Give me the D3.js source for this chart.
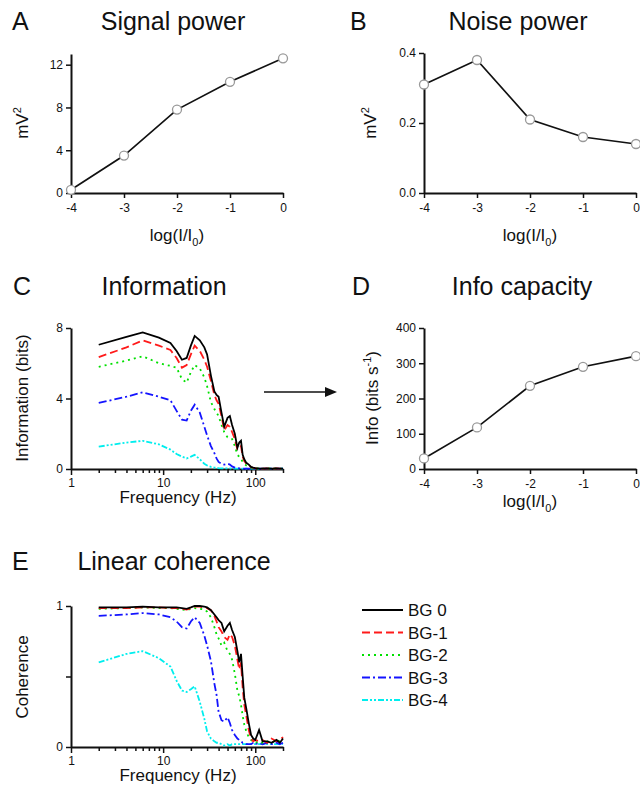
<!DOCTYPE html>
<html>
<head>
<meta charset="utf-8">
<script src="https://cdn.jsdelivr.net/npm/d3@7"></script>
<style>
body { margin: 0; background: #fff; }
text { font-family: "Liberation Sans", Arial, sans-serif; fill: #111; }
</style>
</head>
<body>
<div id="viz"></div>
<script>
// light level points (panels A, B, D)
var logI = [-4, -3, -2, -1, 0];
var signalPower = [0.3, 3.5, 7.8, 10.4, 12.6];
var noisePower = [0.31, 0.38, 0.21, 0.16, 0.14];
var infoCapacity = [30, 118, 236, 290, 320];

// frequency grid (panels C, E)
var freq = [2, 4, 6, 9, 12, 14, 16, 18, 20, 22, 25, 28, 30, 33, 36, 38, 40, 43, 46, 50,
            53, 56, 60, 64, 67, 70, 73, 76, 80, 85, 90, 95, 100, 110, 120, 135, 150, 170, 185, 200];

var seriesNames = ['BG 0', 'BG-1', 'BG-2', 'BG-3', 'BG-4'];

// information (bits)
var info0 = [7.05, 7.5, 7.75, 7.45, 7.15, 6.7, 6.2, 6.3, 7.0, 7.55, 7.3, 6.9, 6.5, 5.3, 4.4, 4.2, 4.1, 3.2, 2.4, 2.9,
             3.0, 2.5, 2.0, 1.2, 1.5, 1.6, 0.8, 0.55, 0.35, 0.25, 0.12, 0.08, 0.05, 0.03, 0.02, 0.03, 0.02, 0.03, 0.02, 0.02];
var info1 = [6.35, 6.9, 7.3, 7.0, 6.75, 6.3, 5.75, 5.9, 6.5, 7.0, 6.7, 6.2, 5.8, 5.0, 4.2, 3.9, 3.7, 3.0, 2.2, 2.5,
             2.4, 2.1, 1.7, 1.1, 1.2, 1.3, 0.7, 0.45, 0.3, 0.2, 0.1, 0.06, 0.04, 0.03, 0.02, 0.03, 0.02, 0.03, 0.02, 0.03];
var info2 = [5.8, 6.15, 6.4, 6.0, 5.85, 5.75, 5.1, 4.9, 5.5, 5.9, 5.7, 5.2, 4.7, 3.8, 3.4, 3.2, 3.0, 2.5, 2.1, 1.8,
             1.75, 1.7, 1.3, 0.8, 0.7, 0.6, 0.4, 0.3, 0.2, 0.12, 0.07, 0.05, 0.04, 0.03, 0.02, 0.03, 0.02, 0.03, 0.02, 0.02];
var info3 = [3.75, 4.1, 4.35, 4.1, 3.9, 3.3, 2.8, 2.75, 3.3, 3.65, 3.2, 2.4, 1.9, 1.3, 0.9, 0.6, 0.4, 0.3, 0.25, 0.3,
             0.25, 0.15, 0.08, 0.05, 0.04, 0.03, 0.03, 0.02, 0.02, 0.02, 0.02, 0.02, 0.02, 0.02, 0.02, 0.02, 0.02, 0.02, 0.02, 0.02];
var info4 = [1.27, 1.5, 1.6, 1.4, 1.1, 0.85, 0.7, 0.6, 0.7, 0.8, 0.55, 0.3, 0.2, 0.12, 0.08, 0.06, 0.05, 0.04, 0.03, 0.03,
             0.03, 0.02, 0.02, 0.02, 0.02, 0.02, 0.02, 0.02, 0.02, 0.02, 0.02, 0.02, 0.02, 0.02, 0.02, 0.02, 0.02, 0.02, 0.02, 0.02];

// linear coherence
var coh0 = [0.99, 0.99, 0.995, 0.99, 0.99, 0.99, 0.985, 0.98, 0.99, 1.0, 1.0, 0.995, 0.99, 0.97, 0.94, 0.92, 0.9, 0.88, 0.82, 0.86,
            0.88, 0.83, 0.78, 0.68, 0.6, 0.66, 0.5, 0.35, 0.27, 0.17, 0.085, 0.06, 0.05, 0.12, 0.04, 0.04, 0.03, 0.05, 0.03, 0.06];
var coh1 = [0.985, 0.985, 0.99, 0.99, 0.985, 0.985, 0.98, 0.975, 0.985, 0.995, 0.995, 0.99, 0.985, 0.97, 0.93, 0.89, 0.85, 0.82, 0.78, 0.76,
            0.8, 0.78, 0.72, 0.62, 0.55, 0.6, 0.42, 0.3, 0.22, 0.12, 0.06, 0.04, 0.05, 0.04, 0.05, 0.03, 0.06, 0.04, 0.05, 0.07];
var coh2 = [0.98, 0.985, 0.99, 0.985, 0.985, 0.98, 0.975, 0.97, 0.98, 0.985, 0.98, 0.975, 0.96, 0.92, 0.85, 0.8, 0.77, 0.72, 0.74, 0.68,
            0.66, 0.62, 0.52, 0.4, 0.36, 0.3, 0.22, 0.16, 0.11, 0.07, 0.05, 0.04, 0.03, 0.04, 0.03, 0.04, 0.03, 0.05, 0.04, 0.05];
var coh3 = [0.93, 0.94, 0.95, 0.94, 0.92, 0.89, 0.85, 0.84, 0.89, 0.92, 0.88, 0.79, 0.72, 0.61, 0.45, 0.37, 0.25, 0.19, 0.18, 0.21,
            0.17, 0.12, 0.085, 0.06, 0.05, 0.04, 0.03, 0.03, 0.02, 0.02, 0.02, 0.03, 0.02, 0.03, 0.02, 0.03, 0.02, 0.03, 0.02, 0.03];
var coh4 = [0.6, 0.66, 0.68, 0.63, 0.57, 0.47, 0.4, 0.39, 0.41, 0.43, 0.32, 0.2, 0.11, 0.06, 0.04, 0.03, 0.03, 0.02, 0.01, 0.02,
            0.01, 0.02, 0.02, 0.02, 0.02, 0.02, 0.02, 0.02, 0.02, 0.02, 0.02, 0.02, 0.02, 0.02, 0.02, 0.02, 0.02, 0.02, 0.02, 0.02];

var infoSeries = [info0, info1, info2, info3, info4];
var cohSeries = [coh0, coh1, coh2, coh3, coh4];

var colors = ['#000000', '#ff1a1a', '#00e000', '#1414ff', '#00eeee'];
var dashes = [null, '8,4', '2,4', '8,3,2,3', '6,2,2,2,2,2'];

var svg = d3.select('#viz').append('svg')
  .attr('width', 640)
  .attr('height', 797)
  .style('background', '#fff');

function styleAxis(g) {
  g.select('.domain').attr('stroke', '#111').attr('stroke-width', 2);
  g.selectAll('.tick line').attr('stroke', '#111').attr('stroke-width', 1.5);
  g.selectAll('.tick text').attr('font-size', 12).attr('fill', '#222')
    .attr('font-family', '"Liberation Sans", Arial, sans-serif');
}

function title(letter, txt, lx, cx, y) {
  svg.append('text').attr('x', lx).attr('y', y).attr('font-size', 25).text(letter);
  svg.append('text').attr('x', cx).attr('y', y).attr('font-size', 25)
    .attr('text-anchor', 'middle').text(txt);
}

function yLabel(x, y, main, sup, tail) {
  var t = svg.append('text')
    .attr('transform', 'translate(' + x + ',' + y + ') rotate(-90)')
    .attr('text-anchor', 'middle').attr('font-size', 17);
  t.append('tspan').text(main);
  if (sup) {
    t.append('tspan').attr('dy', -7).attr('font-size', 11).text(sup);
    if (tail) t.append('tspan').attr('dy', 7).text(tail);
  }
}

function xLabelLog(cx, y) {
  var t = svg.append('text').attr('x', cx).attr('y', y)
    .attr('text-anchor', 'middle').attr('font-size', 17);
  t.append('tspan').text('log(I/I');
  t.append('tspan').attr('dy', 5).attr('font-size', 11).text('0');
  t.append('tspan').attr('dy', -5).text(')');
}

function pointPanel(x0, x1, yTop, yBot, yMax, yTicks, yFmt, values, yDomTop) {
  var x = d3.scaleLinear().domain([-4, 0]).range([x0, x1]);
  var y = d3.scaleLinear().domain([0, yMax]).range([yBot, yTop]);

  var ya = svg.append('g').attr('transform', 'translate(' + x0 + ',0)')
    .call(d3.axisLeft(y).tickValues(yTicks).tickFormat(yFmt).tickSize(5).tickSizeOuter(0).tickPadding(3));
  styleAxis(ya);
  var xa = svg.append('g').attr('transform', 'translate(0,' + yBot + ')')
    .call(d3.axisBottom(x).tickValues(logI).tickFormat(d3.format('d')).tickSize(5).tickSizeOuter(0).tickPadding(5));
  styleAxis(xa);
  xa.selectAll('.tick text').text(function(d) { return d === 0 ? '0' : String(d); });

  var line = d3.line().x(function(d, i) { return x(logI[i]); }).y(function(d) { return y(d); });
  svg.append('path').datum(values).attr('d', line)
    .attr('fill', 'none').attr('stroke', '#111').attr('stroke-width', 1.7);
  svg.append('g').selectAll('circle').data(values).enter().append('circle')
    .attr('cx', function(d, i) { return x(logI[i]); })
    .attr('cy', function(d) { return y(d); })
    .attr('r', 4.5)
    .attr('fill', '#fff').attr('stroke', '#999').attr('stroke-width', 1.3);
}

function freqPanel(yTop, yBot, yMax, yTicks, yFmt, series) {
  var x = d3.scaleLog().domain([1, 200]).range([71, 283]);
  var y = d3.scaleLinear().domain([0, yMax]).range([yBot, yTop]);

  var ya = svg.append('g').attr('transform', 'translate(71,0)')
    .call(d3.axisLeft(y).tickValues(yTicks).tickFormat(yFmt).tickSize(5).tickSizeOuter(0).tickPadding(3));
  styleAxis(ya);

  var fTicks = [1, 2, 3, 4, 5, 6, 7, 8, 9, 10, 20, 30, 40, 50, 60, 70, 80, 90, 100, 200];
  var majors = [1, 10, 100];
  var xa = svg.append('g').attr('transform', 'translate(0,' + yBot + ')')
    .call(d3.axisBottom(x).tickValues(fTicks)
      .tickFormat(function(d) { return majors.indexOf(d) >= 0 ? String(d) : ''; })
      .tickSize(5).tickSizeOuter(0).tickPadding(4));
  styleAxis(xa);
  xa.selectAll('.tick line').attr('y2', function(d) { return majors.indexOf(d) >= 0 ? 6 : 4; });

  var line = d3.line().x(function(d, i) { return x(freq[i]); }).y(function(d) { return y(d); });
  // draw lowest series first so black ends on top
  for (var k = series.length - 1; k >= 0; k--) {
    svg.append('path').datum(series[k]).attr('d', line)
      .attr('fill', 'none')
      .attr('stroke', colors[k])
      .attr('stroke-width', 1.8)
      .attr('stroke-dasharray', dashes[k]);
  }

  svg.append('text').attr('x', 178).attr('y', yBot + 34)
    .attr('text-anchor', 'middle').attr('font-size', 17).text('Frequency (Hz)');
}

// A
title('A', 'Signal power', 12, 173, 30);
pointPanel(71, 283, 54, 193, 13, [0, 4, 8, 12], d3.format('d'), signalPower);
yLabel(28, 123, 'mV', '2');
xLabelLog(177, 241);

// B
title('B', 'Noise power', 350, 518, 30);
pointPanel(424, 636, 53, 193, 0.4, [0, 0.2, 0.4], d3.format('.1f'), noisePower);
yLabel(376, 123, 'mV', '2');
xLabelLog(530, 241);

// C
title('C', 'Information', 13, 164, 295);
freqPanel(328, 469, 8, [0, 4, 8], d3.format('d'), infoSeries);
yLabel(28, 398, 'Information (bits)');

// D
title('D', 'Info capacity', 352, 522, 295);
pointPanel(424, 636, 328, 469, 400, [0, 100, 200, 300, 400], d3.format('d'), infoCapacity);
yLabel(378, 398, 'Info (bits s', '-1', ')');
xLabelLog(530, 507);

// arrow C -> D
svg.append('line').attr('x1', 264).attr('x2', 327).attr('y1', 392).attr('y2', 392)
  .attr('stroke', '#111').attr('stroke-width', 1.6);
svg.append('path').attr('d', 'M337,392 L325,387 L325,397 Z').attr('fill', '#111');

// E
title('E', 'Linear coherence', 12, 174, 570);
freqPanel(606, 747, 1, [0, 0.5, 1], function(d) { return d === 0.5 ? '' : String(d); }, cohSeries);
yLabel(28, 677, 'Coherence');

// legend
var legend = svg.append('g').selectAll('g').data(seriesNames).enter().append('g')
  .attr('transform', function(d, i) { return 'translate(0,' + (610 + i * 22.5) + ')'; });
legend.append('line').attr('x1', 362).attr('x2', 403).attr('y1', 0).attr('y2', 0)
  .attr('stroke', function(d, i) { return colors[i]; })
  .attr('stroke-width', 1.8)
  .attr('stroke-dasharray', function(d, i) { return dashes[i]; });
legend.append('text').attr('x', 408).attr('y', 6).attr('font-size', 17)
  .text(function(d) { return d; });
</script>
</body>
</html>
